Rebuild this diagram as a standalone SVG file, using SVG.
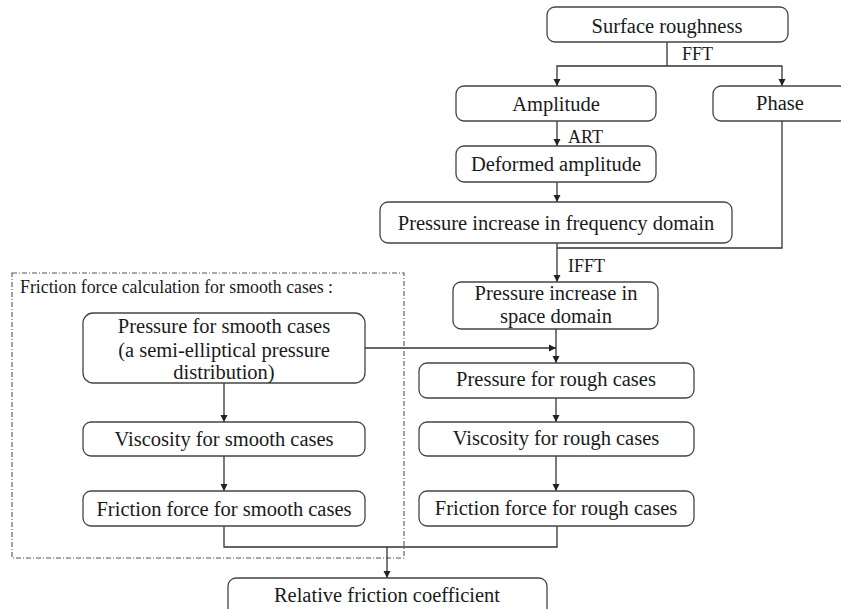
<svg xmlns="http://www.w3.org/2000/svg" width="841" height="609" viewBox="0 0 841 609">
<defs>
<marker id="ah" markerWidth="8" markerHeight="8" refX="7" refY="4" orient="auto" markerUnits="userSpaceOnUse">
<path d="M0,0.5 L7,4 L0,7.5 Z" fill="#222"/>
</marker>
<style>
.box{fill:#fff;stroke:#444;stroke-width:1.3}
.t{font-family:"Liberation Serif","Times New Roman",serif;font-size:20.5px;fill:#1a1a1a;text-anchor:middle}
.l{font-family:"Liberation Serif","Times New Roman",serif;font-size:18px;fill:#1a1a1a}
.c{fill:none;stroke:#333;stroke-width:1.3}
.a{marker-end:url(#ah)}
</style>
</defs>
<rect width="841" height="609" fill="#fff"/>
<g id="group-smooth">
<rect x="12" y="273" width="392" height="285" fill="none" stroke="#555" stroke-width="1.1" stroke-dasharray="5,2,1,2"/>
<text class="l" x="20" y="293" style="font-size:17.8px">Friction force calculation for smooth cases :</text>
</g>
<g id="connectors">
<path class="c" d="M667,42 V66"/>
<path class="c a" d="M667,66 H557 V86"/>
<path class="c a" d="M667,66 H782 V86"/>
<path class="c a" d="M557,121 V146"/>
<path class="c a" d="M557,182 V202"/>
<path class="c" d="M782,121 V248 H557"/>
<path class="c a" d="M557,243 V282"/>
<path class="c a" d="M556,329 V363"/>
<path class="c a" d="M365,348 H556"/>
<path class="c a" d="M556,397 V422"/>
<path class="c a" d="M556,456 V491"/>
<path class="c a" d="M224,383 V422"/>
<path class="c a" d="M224,456 V491"/>
<path class="c" d="M224,526 V547 H557 V526"/>
<path class="c a" d="M387,547 V578"/>
</g>
<g id="n-surface"><rect class="box" x="547" y="7" width="241" height="35" rx="8"/><text class="t" x="667" y="32.5">Surface roughness</text></g>
<text class="l" x="682" y="60">FFT</text>
<g id="n-amplitude"><rect class="box" x="456" y="86" width="200" height="35" rx="8"/><text class="t" x="556" y="111">Amplitude</text></g>
<g id="n-phase"><rect class="box" x="713" y="86" width="134" height="35" rx="8"/><text class="t" x="780" y="110">Phase</text></g>
<text class="l" x="568" y="143">ART</text>
<g id="n-deformed"><rect class="box" x="456" y="146" width="200" height="36" rx="8"/><text class="t" x="556" y="171">Deformed amplitude</text></g>
<g id="n-freq"><rect class="box" x="380" y="202" width="352" height="41" rx="8"/><text class="t" x="556" y="230">Pressure increase in frequency domain</text></g>
<text class="l" x="568" y="272">IFFT</text>
<g id="n-space"><rect class="box" x="453" y="282" width="205" height="47" rx="8"/><text class="t" x="556" y="300">Pressure increase in</text><text class="t" x="556" y="323">space domain</text></g>
<g id="n-smooth-p"><rect class="box" x="83" y="313" width="282" height="70" rx="10"/><text class="t" x="224" y="333">Pressure for smooth cases</text><text class="t" x="224" y="357">(a semi-elliptical pressure</text><text class="t" x="224" y="379">distribution)</text></g>
<g id="n-smooth-v"><rect class="box" x="83" y="422" width="282" height="34" rx="8"/><text class="t" x="224" y="446">Viscosity for smooth cases</text></g>
<g id="n-smooth-f"><rect class="box" x="83" y="491" width="282" height="35" rx="8"/><text class="t" x="224" y="516">Friction force for smooth cases</text></g>
<g id="n-rough-p"><rect class="box" x="419" y="363" width="275" height="35" rx="8"/><text class="t" x="556" y="386">Pressure for rough cases</text></g>
<g id="n-rough-v"><rect class="box" x="419" y="422" width="275" height="34" rx="8"/><text class="t" x="556" y="445">Viscosity for rough cases</text></g>
<g id="n-rough-f"><rect class="box" x="419" y="491" width="275" height="35" rx="8"/><text class="t" x="556" y="515">Friction force for rough cases</text></g>
<g id="n-relative"><rect class="box" x="228" y="578" width="319" height="45" rx="8"/><text class="t" x="387" y="602">Relative friction coefficient</text></g>
</svg>
